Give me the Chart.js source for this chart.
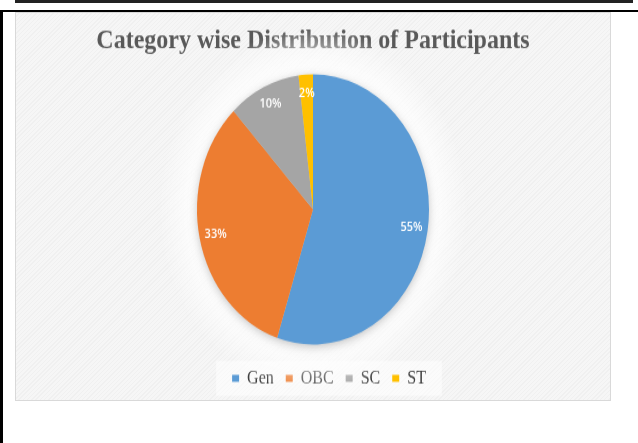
<!DOCTYPE html>
<html>
<head>
<meta charset="utf-8">
<script src="https://cdn.jsdelivr.net/npm/chart.js@4"></script>
<style>
  html, body { margin: 0; padding: 0; background: #ffffff; }
  body { width: 638px; height: 443px; position: relative; overflow: hidden; }
  .band { position: absolute; left: 15px; top: 0; width: 618px; height: 3px; background: #222222; }
  .hline { position: absolute; left: 0; top: 10px; width: 638px; height: 2px; background: #000000; }
  .vline { position: absolute; left: 0; top: 10px; width: 3px; height: 433px; background: #000000; }
  .panel { position: absolute; left: 15px; top: 12px; width: 594px; height: 387px;
           border: 1px solid #d9d9d9;
           background: repeating-linear-gradient(135deg, #f6f6f6 0px, #f6f6f6 2px, #f0f0f0 2px, #f0f0f0 3px); }
  .wrap { position: absolute; left: 15px; top: 12px; width: 596px; height: 334px;
          transform-origin: 0 0; transform: scaleY(1.1647); }
</style>
</head>
<body>
<div class="band"></div>
<div class="hline"></div>
<div class="vline"></div>
<div class="panel"></div>
<div class="wrap"><canvas id="c" width="596" height="334"></canvas></div>
<script>
const categories = ['Gen', 'OBC', 'SC', 'ST'];
const shares = [55, 33, 10, 2];
const sliceColors = ['#5B9BD5', '#ED7D31', '#A5A5A5', '#FFC000'];
const chartTitle = 'Category wise Distribution of Participants';

const backdropPlugin = {
  id: 'backdrop',
  afterLayout(chart) {
    const lg = chart.legend;
    if (lg) { lg.left += 16; lg.right += 16; }
  },
  beforeDatasetsDraw(chart) {
    const ctx = chart.ctx;
    const arc = chart.getDatasetMeta(0).data[0];
    if (!arc) return;
    const p = arc.getProps(['x', 'y', 'outerRadius'], true);
    ctx.save();
    const g = ctx.createRadialGradient(p.x, p.y, p.outerRadius, p.x, p.y, p.outerRadius * 1.35);
    g.addColorStop(0, 'rgba(255,255,255,0.9)');
    g.addColorStop(1, 'rgba(255,255,255,0)');
    ctx.fillStyle = g;
    ctx.beginPath();
    ctx.arc(p.x, p.y, p.outerRadius * 1.35, 0, Math.PI * 2);
    ctx.fill();
    ctx.shadowColor = 'rgba(0,0,0,0.28)';
    ctx.shadowBlur = 10;
    ctx.shadowOffsetY = 2;
    ctx.fillStyle = '#cccccc';
    ctx.beginPath();
    ctx.arc(p.x, p.y, p.outerRadius - 1, 0, Math.PI * 2);
    ctx.fill();
    ctx.restore();
  },
  beforeDraw(chart) {
    const lg = chart.legend;
    if (!lg || !lg.legendHitBoxes || !lg.legendHitBoxes.length) return;
    const boxes = lg.legendHitBoxes;
    const first = boxes[0], last = boxes[boxes.length - 1];
    const ctx = chart.ctx;
    ctx.save();
    ctx.fillStyle = 'rgba(255,255,255,0.55)';
    ctx.fillRect(first.left - 16, first.top - 7, last.left + last.width - first.left + 32, first.height + 14);
    ctx.restore();
  }
};

const pctLabelPlugin = {
  id: 'pctLabels',
  afterDatasetsDraw(chart) {
    const ctx = chart.ctx;
    const meta = chart.getDatasetMeta(0);
    const data = chart.data.datasets[0].data;
    ctx.save();
    ctx.fillStyle = '#ffffff';
    ctx.font = '600 11px "Open Sans", sans-serif';
    ctx.textAlign = 'center';
    ctx.textBaseline = 'middle';
    meta.data.forEach((arc, i) => {
      const p = arc.getProps(['x', 'y', 'startAngle', 'endAngle', 'outerRadius'], true);
      const mid = (p.startAngle + p.endAngle) / 2;
      const r = p.outerRadius * 0.86;
      ctx.fillText(data[i] + '%', p.x + Math.cos(mid) * r, p.y + Math.sin(mid) * r);
    });
    ctx.restore();
  }
};

new Chart(document.getElementById('c'), {
  type: 'pie',
  data: {
    labels: categories,
    datasets: [{
      data: shares,
      backgroundColor: sliceColors,
      borderWidth: 0,
      radius: 116
    }]
  },
  options: {
    responsive: false,
    animation: false,
    devicePixelRatio: 1,
    layout: { padding: { top: 0, bottom: 1.5, left: 0, right: 0 } },
    plugins: {
      tooltip: { enabled: false },
      title: {
        display: true,
        text: chartTitle,
        color: '#595959',
        font: { family: '"Liberation Serif", "Times New Roman", serif', size: 24, weight: 'bold' },
        padding: { top: 10.5, bottom: 5.2 }
      },
      legend: {
        display: true,
        position: 'bottom',
        labels: {
          color: '#404040',
          font: { family: '"Liberation Serif", "Times New Roman", serif', size: 16 },
          boxWidth: 7,
          boxHeight: 6,
          padding: 12
        }
      }
    }
  },
  plugins: [backdropPlugin, pctLabelPlugin]
});
</script>
</body>
</html>
